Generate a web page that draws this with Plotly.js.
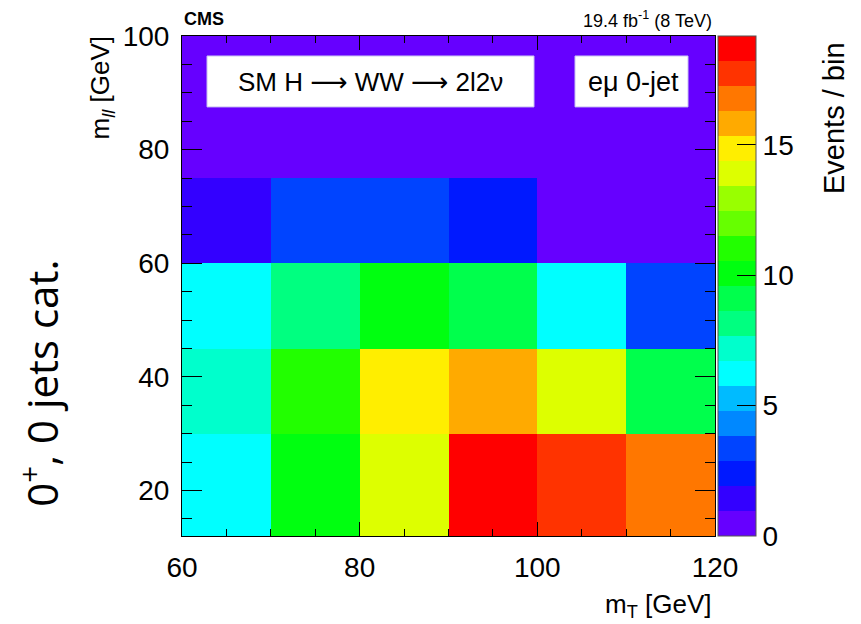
<!DOCTYPE html>
<html>
<head>
<meta charset="utf-8">
<script src="https://cdn.plot.ly/plotly-3.0.1.min.js"></script>
<style>html,body{margin:0;padding:0;background:#fff;}#chart{width:861px;height:624px;}</style>
</head>
<body>
<div id="chart"></div>
<script>
// Bin edges
const mtEdges = [60, 70, 80, 90, 100, 110, 120];
const mllEdges = [12, 30, 45, 60, 75, 100];
// Events / bin, rows from low m_ll to high m_ll
const row12to30 = [6.3, 10.1, 13.9, 19.18, 17.8, 16.8];
const row30to45 = [7.2, 11.0, 14.9, 15.8, 13.9, 9.1];
const row45to60 = [6.2, 8.1, 10.0, 9.2, 6.3, 3.4];
const row60to75 = [1.4, 3.4, 3.3, 2.4, 0.5, 0.4];
const row75to100 = [0.3, 0.4, 0.3, 0.2, 0.3, 0.2];
const zMax = 19.18;
const cbTicks = [0, 5, 10, 15];
// ROOT-like 20-level palette (low -> high)
const palette = ['#6600ff','#3300ff','#0019ff','#0044ff','#0088ff','#00bbff','#00ffff','#00ffcc','#00ff80','#00ff4c',
                 '#00ff10','#22ff00','#66ff00','#99ff00','#ddff00','#ffee00','#ffaa00','#ff7700','#ff3300','#ff0000'];

const cs = [];
palette.forEach((c, i) => { cs.push([i / palette.length, c]); cs.push([(i + 1) / palette.length, c]); });

const W = 861, H = 624;
const L = 182, R = 715, T = 36, B = 536.5;
const px = x => (x - L) / (R - L);
const py = y => (B - y) / (B - T);
const font = 'Liberation Sans, Arial, sans-serif';
const arrow = '<span style="font-family:DejaVu Sans">\u27f6</span>';

const trace = {
  type: 'heatmap',
  x: mtEdges,
  y: mllEdges,
  z: [row12to30, row30to45, row45to60, row60to75, row75to100],
  zmin: 0, zmax: zMax,
  colorscale: cs,
  hoverinfo: 'skip',
  colorbar: {
    x: px(718), xanchor: 'left', xpad: 0,
    y: 0.5, yanchor: 'middle', ypad: 0,
    len: 1, lenmode: 'fraction',
    thickness: 38, thicknessmode: 'pixels',
    outlinewidth: 1, outlinecolor: '#555',
    tickvals: cbTicks, ticktext: cbTicks.map(String),
    ticks: 'inside', ticklen: 19, tickcolor: '#000', tickwidth: 1,
    tickfont: {family: font, size: 28, color: '#000'}
  }
};

const layout = {
  width: W, height: H,
  margin: {l: L, r: W - R, t: T, b: H - B},
  paper_bgcolor: '#fff', plot_bgcolor: '#fff',
  showlegend: false,
  xaxis: {
    range: [60, 120], tick0: 60, dtick: 20,
    ticks: 'inside', ticklen: 14, tickwidth: 1, tickcolor: '#000',
    showline: true, linecolor: '#000', linewidth: 1, mirror: 'ticks',
    showgrid: false, zeroline: false,
    minor: {dtick: 5, ticks: 'inside', ticklen: 7, tickcolor: '#000', showgrid: false},
    tickfont: {family: font, size: 28, color: '#000'},
    ticklabelstandoff: 6
  },
  yaxis: {
    range: [12, 100], tick0: 0, dtick: 20,
    ticks: 'inside', ticklen: 20, tickwidth: 1, tickcolor: '#000',
    showline: true, linecolor: '#000', linewidth: 1, mirror: 'ticks',
    showgrid: false, zeroline: false,
    minor: {dtick: 5, ticks: 'inside', ticklen: 10, tickcolor: '#000', showgrid: false},
    tickfont: {family: font, size: 28, color: '#000'},
    ticklabelstandoff: 6
  },
  shapes: [
    {type: 'rect', xref: 'paper', yref: 'paper', x0: px(207), x1: px(534), y0: py(107), y1: py(56),
     fillcolor: '#fff', line: {color: '#c8c0f0', width: 1}, layer: 'above'},
    {type: 'rect', xref: 'paper', yref: 'paper', x0: px(575), x1: px(688), y0: py(107), y1: py(56),
     fillcolor: '#fff', line: {color: '#c8c0f0', width: 1}, layer: 'above'}
  ],
  annotations: [
    {text: '<b>CMS</b>', xref: 'paper', yref: 'paper', x: px(182), y: py(19), xanchor: 'left', yanchor: 'middle',
     showarrow: false, font: {family: font, size: 18, color: '#000'}},
    {text: '19.4 fb<sup>-1</sup> (8 TeV)', xref: 'paper', yref: 'paper', x: px(714), y: py(19), xanchor: 'right', yanchor: 'middle',
     showarrow: false, font: {family: font, size: 18, color: '#000'}},
    {text: 'SM H ' + arrow + ' WW ' + arrow + ' 2l2\u03bd', xref: 'paper', yref: 'paper', x: px(370), y: py(82), xanchor: 'center', yanchor: 'middle',
     showarrow: false, font: {family: font, size: 26, color: '#000'}},
    {text: 'e\u03bc 0-jet', xref: 'paper', yref: 'paper', x: px(633), y: py(82), xanchor: 'center', yanchor: 'middle',
     showarrow: false, font: {family: font, size: 27, color: '#000'}},
    {text: 'm<sub>T</sub> [GeV]', xref: 'paper', yref: 'paper', x: px(714), y: py(606), xanchor: 'right', yanchor: 'middle',
     showarrow: false, font: {family: font, size: 26, color: '#000'}},
    {text: 'm<sub><i>ll</i></sub> [GeV]', xref: 'paper', yref: 'paper', x: px(102), y: py(34), xanchor: 'center', yanchor: 'top',
     textangle: -90, showarrow: false, font: {family: font, size: 26, color: '#000'}},
    {text: 'Events / bin', xref: 'paper', yref: 'paper', x: px(834), y: py(40), xanchor: 'center', yanchor: 'top',
     textangle: -90, showarrow: false, font: {family: font, size: 29, color: '#000'}},
    {text: '0<sup>+</sup>, 0 jets cat.', xref: 'paper', yref: 'paper', x: px(40), y: py(384), xanchor: 'center', yanchor: 'middle',
     textangle: -90, showarrow: false, font: {family: 'Open Sans, Noto Sans, sans-serif', size: 42, color: '#000'}}
  ]
};

Plotly.newPlot('chart', [trace], layout, {staticPlot: true, displayModeBar: false});
</script>
</body>
</html>
